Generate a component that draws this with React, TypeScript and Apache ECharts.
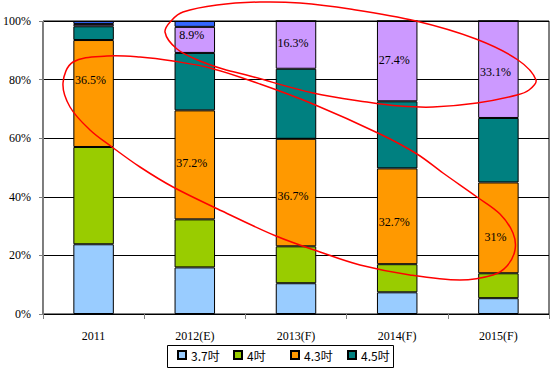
import React, { useEffect, useRef } from "react";
import * as echarts from "echarts";

const categories = ["2011", "2012(E)", "2013(F)", "2014(F)", "2015(F)"];
const s37 = [23.8, 15.9, 10.5, 7.4, 5.4];
const s40 = [33.2, 16.4, 12.6, 9.6, 8.5];
const s43 = [36.5, 37.2, 36.7, 32.7, 31.0];
const s45 = [4.7, 19.6, 23.9, 22.9, 22.0];
const sOther1 = [0.8, 8.9, 16.3, 27.4, 33.1];
const sOther2 = [1.0, 2.0, 0, 0, 0];
const yTicks = [0, 20, 40, 60, 80, 100];
const legendNames = ["3.7吋", "4吋", "4.3吋", "4.5吋"];

// styling only: legend item x positions and label tweaks
const legendLefts = [177, 233, 290, 347];
const orangeLabelDy = [-14, -2, 3, 6, 9];
const purpleLabelDy = [0, -5, -2, -1, 3];

// hand-drawn annotation outlines (pixel coordinates)
const upperLoop = [
  [165, 32], [172, 20], [183, 12], [217, 5], [260, 2], [300, 3], [350, 9],
  [416, 21], [476, 39], [518, 60], [536, 80], [529, 90], [517, 95], [477, 103],
  [433, 107], [400, 106], [367, 102], [313, 93], [250, 76], [223, 69], [200, 61], [177, 49],
];
const lowerLoop = [
  [63, 83], [73, 62], [107, 56], [140, 57], [173, 61], [210, 68], [260, 84],
  [313, 104], [380, 134], [417, 154], [443, 173], [477, 197], [500, 214],
  [513, 233], [515, 250], [507, 266], [493, 275], [460, 280], [410, 275],
  [360, 265], [320, 252], [276, 236], [222, 211], [173, 187], [140, 167],
  [112, 147], [90, 130], [70, 107],
];

const serif = "'Liberation Serif', 'Times New Roman', serif";
const cjk = "'Noto Sans CJK TC', 'Noto Sans', sans-serif";

export default function App() {
  const ref = useRef<HTMLDivElement>(null);
  useEffect(() => {
    if (!ref.current) return;
    const chart = echarts.init(ref.current, null, { renderer: "svg" });
    const baseBar = (name: string, color: string, data: any[]) => ({
      name,
      type: "bar",
      stack: "total",
      barWidth: "40%",
      data,
      itemStyle: { color, borderColor: "#000", borderWidth: 1 },
    });
    const fmt = (p: any) => `${p.value}%`;
    const labelStyle = (dy: number, show: boolean) => ({
      show,
      position: "inside",
      offset: [-3, dy],
      formatter: fmt,
      fontFamily: serif,
      fontSize: 12,
      color: "#000",
    });
    const orangeData = s43.map((v, i) => ({ value: v, label: labelStyle(orangeLabelDy[i], true) }));
    const purpleData = sOther1.map((v, i) => ({ value: v, label: labelStyle(purpleLabelDy[i], i > 0) }));
    const legends = legendNames.map((n, i) => ({
      data: [n],
      left: legendLefts[i],
      top: 349,
      padding: 0,
      selectedMode: false,
      icon: "rect",
      itemWidth: 8,
      itemHeight: 8,
      textStyle: { fontFamily: cjk, fontSize: 12, color: "#000" },
    }));
    chart.setOption({
      animation: false,
      backgroundColor: "#fff",
      grid: {
        left: 41,
        right: 3,
        top: 21,
        bottom: 56,
        show: true,
        borderColor: "#000",
        borderWidth: 1,
        backgroundColor: "#fff",
      },
      legend: legends,
      xAxis: {
        type: "category",
        data: categories,
        boundaryGap: true,
        axisLine: { lineStyle: { color: "#000", width: 1 } },
        axisTick: { show: true, length: 5, lineStyle: { color: "#808080" } },
        axisLabel: { fontFamily: serif, fontSize: 12, color: "#000", margin: 16 },
      },
      yAxis: {
        type: "value",
        min: yTicks[0],
        max: yTicks[yTicks.length - 1],
        interval: 20,
        axisLine: { show: true, lineStyle: { color: "#808080", width: 1 } },
        axisTick: { show: true, length: 4, lineStyle: { color: "#808080" } },
        axisLabel: {
          formatter: "{value}%",
          fontFamily: serif,
          fontSize: 12,
          color: "#000",
          margin: 12,
        },
        splitLine: { show: true, lineStyle: { color: "#000", width: 1 } },
      },
      series: [
        baseBar("3.7吋", "#99CCFF", s37),
        baseBar("4吋", "#99CC00", s40),
        baseBar("4.3吋", "#FF9900", orangeData),
        baseBar("4.5吋", "#008080", s45),
        baseBar("4.8吋", "#CC99FF", purpleData),
        baseBar("5吋", "#3366FF", sOther2),
      ],
      graphic: [
        {
          type: "rect",
          silent: true,
          shape: { x: 167.5, y: 345.5, width: 226, height: 22 },
          style: { fill: "none", stroke: "#000", lineWidth: 1 },
        },
        {
          type: "polygon",
          z: 100,
          silent: true,
          shape: { points: upperLoop, smooth: 0.35 },
          style: { fill: "none", stroke: "#FF0000", lineWidth: 1.5 },
        },
        {
          type: "polygon",
          z: 100,
          silent: true,
          shape: { points: lowerLoop, smooth: 0.35 },
          style: { fill: "none", stroke: "#FF0000", lineWidth: 1.5 },
        },
      ],
    });
    return () => chart.dispose();
  }, []);
  return (
    <div
      ref={ref}
      style={{ position: "fixed", left: 0, top: 0, width: 552, height: 370 }}
    />
  );
}
